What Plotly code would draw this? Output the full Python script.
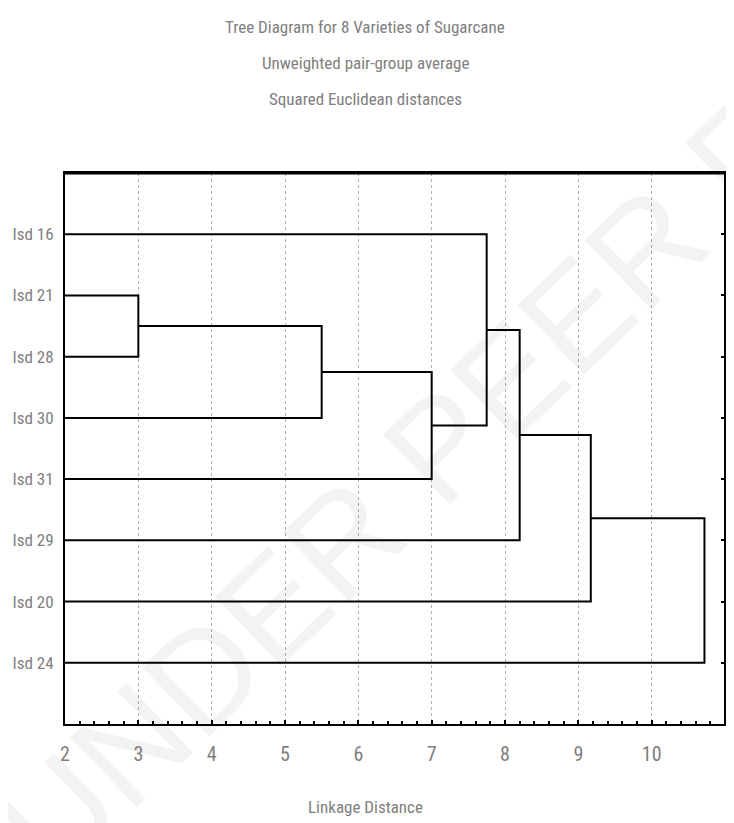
import plotly.graph_objects as go

# ---- data ----
leaves = ["Isd 16", "Isd 21", "Isd 28", "Isd 30", "Isd 31", "Isd 29", "Isd 20", "Isd 24"]
merge_a = ["Isd 21", "C1", "C2", "Isd 16", "C4", "C5", "C6"]
merge_b = ["Isd 28", "Isd 30", "Isd 31", "C3", "Isd 29", "Isd 20", "Isd 24"]
merge_height = [3.0, 5.5, 7.0, 7.75, 8.2, 9.17, 10.72]
x_ticks = [2, 3, 4, 5, 6, 7, 8, 9, 10, 11]
base_height = 2.0

# ---- build dendrogram paths ----
pos = {name: i for i, name in enumerate(leaves)}
hgt = {name: base_height for name in leaves}
xs, ys = [], []
for k, (a, b, h) in enumerate(zip(merge_a, merge_b, merge_height), start=1):
    ya, yb = pos[a], pos[b]
    xs += [hgt[a], h, h, hgt[b], None]
    ys += [ya, ya, yb, yb, None]
    cname = f"C{k}"
    pos[cname] = (ya + yb) / 2
    hgt[cname] = h

FONT = "Roboto Condensed, Liberation Sans Narrow, sans-serif"
GREY = "#808080"
PW, PH = 660, 551  # plot area size in px

fig = go.Figure()
fig.add_trace(go.Scatter(x=xs, y=ys, mode="lines",
                         line=dict(color="black", width=2),
                         hoverinfo="skip", showlegend=False))
fig.add_trace(go.Scatter(x=[2], y=[0], yaxis="y2", mode="markers",
                         marker=dict(opacity=0), hoverinfo="skip", showlegend=False))

fig.update_layout(
    width=726, height=815,
    margin=dict(l=57, r=726 - 57 - PW, t=165, b=815 - 165 - PH),
    paper_bgcolor="white", plot_bgcolor="white",
    font=dict(family=FONT, color=GREY),
    xaxis=dict(range=[2, 11], tickvals=x_ticks, ticktext=[str(v) for v in x_ticks],
               showgrid=True, gridcolor="#b0b0b0", griddash="dot", gridwidth=1,
               showline=True, linecolor="black", linewidth=2, mirror=True,
               ticks="inside", ticklen=4, tickcolor="black", tickwidth=2,
               minor=dict(dtick=0.2, ticks="inside", ticklen=3, tickcolor="black",
                          tickwidth=2, showgrid=False),
               tickfont=dict(size=20, color=GREY, family=FONT),
               ticklabelstandoff=11, zeroline=False, automargin=False),
    yaxis=dict(range=[8, -1], tickvals=list(range(len(leaves))), ticktext=leaves,
               showgrid=False, showline=True, linecolor="black", linewidth=2, mirror=True,
               ticks="", tickfont=dict(size=17, color=GREY, family=FONT),
               ticklabelstandoff=6, zeroline=False, automargin=False),
    yaxis2=dict(range=[8, -1], overlaying="y", side="right",
                tickvals=list(range(len(leaves))), showticklabels=False,
                ticks="inside", ticklen=4, tickcolor="black", tickwidth=2,
                showgrid=False, showline=True, linecolor="black", linewidth=2,
                zeroline=False, automargin=False),
)

# frame: heavier top border and explicit right border
fig.add_shape(type="line", xref="paper", yref="paper", x0=0, x1=1, y0=1, y1=1,
              line=dict(color="black", width=3))
fig.add_shape(type="line", xref="paper", yref="paper", x0=1, x1=1, y0=0, y1=1,
              line=dict(color="black", width=2))

# screen y -> paper y (plot top at 173, bottom at 724 on screen)
def py(yp):
    return (724 - yp) / PH

title_x = (365 - 65) / PW
titles = ["Tree Diagram for 8 Varieties of Sugarcane",
          "Unweighted pair-group average",
          "Squared Euclidean distances"]
for t, yp in zip(titles, [27, 63, 99]):
    fig.add_annotation(text=t, x=title_x, y=py(yp), xref="paper", yref="paper",
                       xanchor="center", yanchor="middle", showarrow=False,
                       font=dict(size=17, color=GREY, family=FONT))
fig.add_annotation(text="Linkage Distance", x=title_x, y=py(807),
                   xref="paper", yref="paper", xanchor="center", yanchor="middle",
                   showarrow=False, font=dict(size=17, color=GREY, family=FONT))
fig.add_annotation(text="UNDER PEER REVIEW", x=(564 - 65) / PW, y=py(326),
                   xref="paper", yref="paper", xanchor="center", yanchor="middle",
                   showarrow=False, textangle=-44, opacity=0.045,
                   font=dict(size=140, color="black", family="Liberation Sans"))

fig.write_html("out.html")
